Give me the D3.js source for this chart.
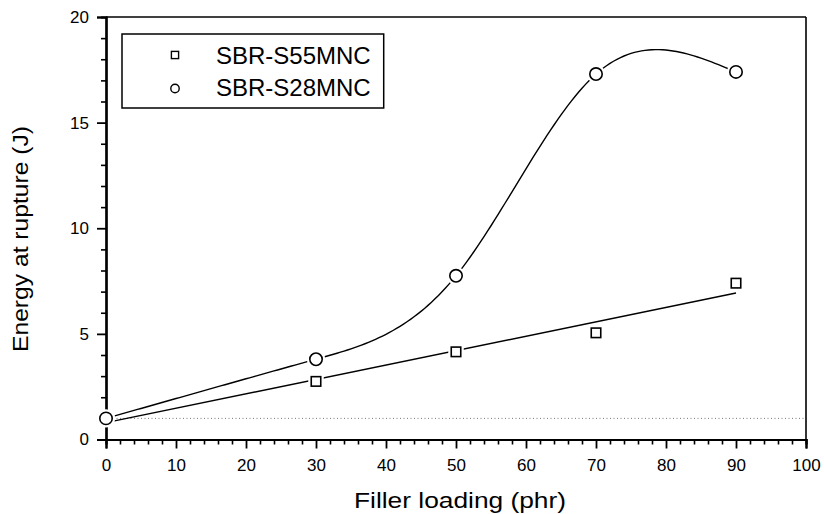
<!DOCTYPE html>
<html>
<head>
<meta charset="utf-8">
<script src="https://cdn.jsdelivr.net/npm/d3@7/dist/d3.min.js"></script>
<style>
  html, body { margin: 0; padding: 0; background: #fff; }
  svg { display: block; font-family: "Liberation Sans", Arial, Helvetica, sans-serif; }
</style>
</head>
<body>
<svg id="chart" width="824" height="514"></svg>
<script>
// ---- data ----
const fillerLoading = [0, 30, 50, 70, 90];
const s55Values = [1.0, 2.75, 4.15, 5.05, 7.4];   // SBR-S55MNC (squares)
const s28Values = [1.0, 3.8, 7.75, 17.3, 17.4];   // SBR-S28MNC (circles)
const seriesNames = ["SBR-S55MNC", "SBR-S28MNC"];
const xTicks = [0, 10, 20, 30, 40, 50, 60, 70, 80, 90, 100];
const yTicks = [0, 5, 10, 15, 20];
const referenceLevel = 1.0;
const xTitle = "Filler loading (phr)";
const yTitle = "Energy at rupture (J)";

(function () {
// ---- layout ----
const svg = d3.select("#chart");
const pL = 106, pR = 806, pT = 17, pB = 439.5;
const x = d3.scaleLinear().domain([0, 100]).range([pL, pR]);
const y = d3.scaleLinear().domain([0, 20]).range([pB, pT]);

// ---- helpers: linear regression & natural cubic spline in data space ----
function linFit(xs, ys) {
  const n = xs.length, mx = d3.mean(xs), my = d3.mean(ys);
  let sxx = 0, sxy = 0;
  for (let i = 0; i < n; i++) { sxx += (xs[i]-mx)**2; sxy += (xs[i]-mx)*(ys[i]-my); }
  const b = sxy / sxx; return { a: my - b*mx, b };
}
function naturalSpline(xs, ys) {
  const n = xs.length, h = [], d = [];
  for (let i = 0; i < n-1; i++) { h.push(xs[i+1]-xs[i]); d.push((ys[i+1]-ys[i])/h[i]); }
  const m = n - 2, A = [], B = [], C = [], R = [];
  for (let i = 1; i <= m; i++) {
    A.push(h[i-1]); B.push(2*(h[i-1]+h[i])); C.push(h[i]); R.push(6*(d[i]-d[i-1]));
  }
  for (let i = 1; i < m; i++) { const w = A[i]/B[i-1]; B[i] -= w*C[i-1]; R[i] -= w*R[i-1]; }
  const Mi = new Array(m);
  Mi[m-1] = R[m-1]/B[m-1];
  for (let i = m-2; i >= 0; i--) Mi[i] = (R[i] - C[i]*Mi[i+1])/B[i];
  const M = [0, ...Mi, 0];
  return function(t) {
    let i = 0; while (i < n-2 && t > xs[i+1]) i++;
    const hi = h[i], a = xs[i+1]-t, b = t-xs[i];
    return M[i]*a*a*a/(6*hi) + M[i+1]*b*b*b/(6*hi) + (ys[i]/hi - M[i]*hi/6)*a + (ys[i+1]/hi - M[i+1]*hi/6)*b;
  };
}

// ---- reference dotted line ----
svg.append("line")
  .attr("x1", x(0)).attr("x2", x(100))
  .attr("y1", y(referenceLevel)).attr("y2", y(referenceLevel))
  .attr("stroke", "#777").attr("stroke-width", 1).attr("stroke-dasharray", "1,2.5");

// ---- frame ----
svg.append("line").attr("x1", pL).attr("x2", pR).attr("y1", pT).attr("y2", pT)
  .attr("stroke", "#000").attr("stroke-width", 1.6);
svg.append("line").attr("x1", pR).attr("x2", pR).attr("y1", pT).attr("y2", pB)
  .attr("stroke", "#000").attr("stroke-width", 1.6);

// ---- axes ----
const xMinor = d3.range(0, 101, 2).filter(v => v % 10 !== 0);
const yMinor = d3.range(0, 21, 1).filter(v => v % 5 !== 0);

const gx = svg.append("g").attr("transform", `translate(0,${pB})`);
gx.call(d3.axisBottom(x).tickValues(xMinor).tickSize(5).tickFormat(""));
gx.selectAll(".tick line").attr("stroke-width", 1.6);
const gx2 = svg.append("g").attr("transform", `translate(0,${pB})`);
gx2.call(d3.axisBottom(x).tickValues(xTicks).tickSize(9).tickPadding(10).tickFormat(d3.format("d")));
gx2.attr("font-size", 17).attr("font-family", "Liberation Sans, Arial, sans-serif");
gx2.selectAll(".tick line").attr("stroke-width", 1.8);
gx2.selectAll(".tick text").attr("fill", "#000");

const gy = svg.append("g").attr("transform", `translate(${pL},0)`);
gy.call(d3.axisLeft(y).tickValues(yMinor).tickSize(5).tickFormat(""));
gy.selectAll(".tick line").attr("stroke-width", 1.6);
const gy2 = svg.append("g").attr("transform", `translate(${pL},0)`);
gy2.call(d3.axisLeft(y).tickValues(yTicks).tickSize(9).tickPadding(8).tickFormat(d3.format("d")));
gy2.attr("font-size", 17).attr("font-family", "Liberation Sans, Arial, sans-serif");
gy2.selectAll(".tick line").attr("stroke-width", 1.8);
gy2.selectAll(".tick text").attr("fill", "#000");
svg.selectAll(".domain").attr("stroke-width", 2.2).attr("stroke", "#000");

// ---- titles ----
svg.append("text").attr("x", 460).attr("y", 508).attr("text-anchor", "middle")
  .attr("font-size", 22).attr("textLength", 212).attr("lengthAdjust", "spacingAndGlyphs")
  .text(xTitle);
svg.append("text").attr("transform", "translate(28,239) rotate(-90)").attr("text-anchor", "middle")
  .attr("font-size", 22).attr("textLength", 226).attr("lengthAdjust", "spacingAndGlyphs")
  .text(yTitle);

// ---- fitted lines ----
const fit = linFit(fillerLoading, s55Values);
const xs0 = fillerLoading[0], xs1 = fillerLoading[fillerLoading.length-1];
const lineGen = d3.line().x(d => x(d[0])).y(d => y(d[1]));
svg.append("path")
  .datum([[xs0, fit.a + fit.b*xs0], [xs1, fit.a + fit.b*xs1]])
  .attr("d", lineGen).attr("fill", "none").attr("stroke", "#000").attr("stroke-width", 1.4);

const spl = naturalSpline(fillerLoading, s28Values);
const splPts = d3.range(xs0, xs1 + 0.001, 0.5).map(t => [t, spl(t)]);
svg.append("path").datum(splPts)
  .attr("d", lineGen).attr("fill", "none").attr("stroke", "#000").attr("stroke-width", 1.4);

// ---- markers ----
const sq = 9.5;
const sqData = fillerLoading.map((v, i) => [v, s55Values[i]]);
const ciData = fillerLoading.map((v, i) => [v, s28Values[i]]);
svg.append("g").selectAll("rect").data(sqData).join("rect")
  .attr("x", d => x(d[0]) - sq/2).attr("y", d => y(d[1]) - sq/2)
  .attr("width", sq).attr("height", sq)
  .attr("fill", "#fff").attr("stroke", "#fff").attr("stroke-width", 6);
svg.append("g").selectAll("rect").data(sqData).join("rect")
  .attr("x", d => x(d[0]) - sq/2).attr("y", d => y(d[1]) - sq/2)
  .attr("width", sq).attr("height", sq)
  .attr("fill", "#fff").attr("stroke", "#000").attr("stroke-width", 1.6);
svg.append("g").selectAll("circle").data(ciData).join("circle")
  .attr("cx", d => x(d[0])).attr("cy", d => y(d[1])).attr("r", 6.2)
  .attr("fill", "#fff").attr("stroke", "#fff").attr("stroke-width", 6);
svg.append("g").selectAll("circle").data(ciData).join("circle")
  .attr("cx", d => x(d[0])).attr("cy", d => y(d[1])).attr("r", 6.2)
  .attr("fill", "#fff").attr("stroke", "#000").attr("stroke-width", 1.6);

// ---- legend ----
const lg = svg.append("g");
const box = lg.append("rect").attr("x", 122).attr("y", 34).attr("height", 74)
  .attr("fill", "#fff").attr("stroke", "#000").attr("stroke-width", 1.5);
lg.append("rect").attr("x", 175 - 3.6).attr("y", 55 - 3.6).attr("width", 7.2).attr("height", 7.2)
  .attr("fill", "#fff").attr("stroke", "#000").attr("stroke-width", 1.4);
lg.append("circle").attr("cx", 175).attr("cy", 88.5).attr("r", 4.2)
  .attr("fill", "#fff").attr("stroke", "#000").attr("stroke-width", 1.4);
const t1 = lg.append("text").attr("x", 216).attr("y", 63.5).attr("font-size", 24).text(seriesNames[0]);
const t2 = lg.append("text").attr("x", 216).attr("y", 96).attr("font-size", 24).text(seriesNames[1]);
const tw = Math.max(t1.node().getComputedTextLength(), t2.node().getComputedTextLength());
box.attr("width", 216 + tw + 13 - 122);
})();
</script>
</body>
</html>
